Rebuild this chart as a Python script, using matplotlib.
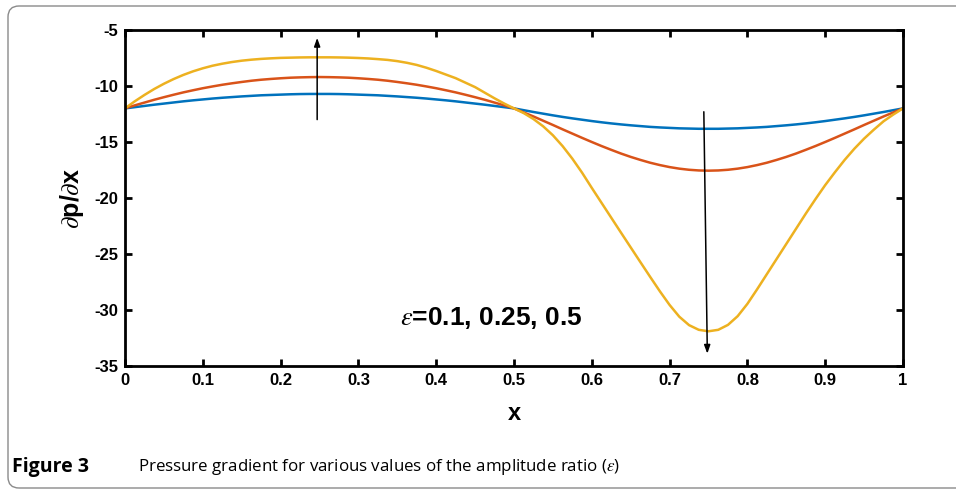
"""
Pressure gradient dp/dx along x for three amplitude ratios (epsilon).
Values read off the published figure.
"""

import matplotlib
matplotlib.use("Agg")
import matplotlib.pyplot as plt
from matplotlib.patches import FancyBboxPatch
from matplotlib.transforms import IdentityTransform

plt.rcParams['font.family'] = ['Liberation Sans', 'DejaVu Sans']
plt.rcParams['axes.unicode_minus'] = False
plt.rcParams['mathtext.fontset'] = 'stix'

# ---------------------------------------------------------------------------
# data (x step 0.0125)
# ---------------------------------------------------------------------------
x_vals = [0.0000, 0.0125, 0.0250, 0.0375, 0.0500, 0.0625, 0.0750, 0.0875, 0.1000,
          0.1125, 0.1250, 0.1375, 0.1500, 0.1625, 0.1750, 0.1875, 0.2000, 0.2125,
          0.2250, 0.2375, 0.2500, 0.2625, 0.2750, 0.2875, 0.3000, 0.3125, 0.3250,
          0.3375, 0.3500, 0.3625, 0.3750, 0.3875, 0.4000, 0.4125, 0.4250, 0.4375,
          0.4500, 0.4625, 0.4750, 0.4875, 0.5000, 0.5125, 0.5250, 0.5375, 0.5500,
          0.5625, 0.5750, 0.5875, 0.6000, 0.6125, 0.6250, 0.6375, 0.6500, 0.6625,
          0.6750, 0.6875, 0.7000, 0.7125, 0.7250, 0.7375, 0.7500, 0.7625, 0.7750,
          0.7875, 0.8000, 0.8125, 0.8250, 0.8375, 0.8500, 0.8625, 0.8750, 0.8875,
          0.9000, 0.9125, 0.9250, 0.9375, 0.9500, 0.9625, 0.9750, 0.9875, 1.0000]

dpdx_eps_010 = [-12.00, -11.89, -11.78, -11.67, -11.57, -11.47, -11.37, -11.28, -11.20,
                -11.12, -11.05, -10.99, -10.93, -10.88, -10.83, -10.80, -10.77, -10.74,
                -10.72, -10.71, -10.71, -10.71, -10.72, -10.74, -10.77, -10.80, -10.83,
                -10.88, -10.93, -10.99, -11.05, -11.12, -11.20, -11.28, -11.37, -11.47,
                -11.57, -11.67, -11.78, -11.89, -12.00, -12.16, -12.32, -12.47, -12.62,
                -12.76, -12.89, -13.01, -13.13, -13.24, -13.34, -13.43, -13.51, -13.58,
                -13.65, -13.70, -13.74, -13.78, -13.80, -13.82, -13.82, -13.82, -13.80,
                -13.78, -13.74, -13.70, -13.65, -13.58, -13.51, -13.43, -13.34, -13.24,
                -13.13, -13.01, -12.89, -12.76, -12.62, -12.47, -12.32, -12.16, -12.00]

dpdx_eps_025 = [-12.00, -11.73, -11.48, -11.23, -11.00, -10.78, -10.57, -10.38, -10.20,
                -10.04, -9.89, -9.76, -9.64, -9.53, -9.44, -9.37, -9.31, -9.26,
                -9.23, -9.21, -9.20, -9.21, -9.23, -9.26, -9.31, -9.37, -9.44,
                -9.53, -9.64, -9.76, -9.89, -10.04, -10.20, -10.38, -10.57, -10.78,
                -11.00, -11.23, -11.48, -11.73, -12.00, -12.36, -12.72, -13.10, -13.48,
                -13.87, -14.25, -14.63, -15.00, -15.36, -15.70, -16.03, -16.33, -16.60,
                -16.85, -17.06, -17.24, -17.38, -17.48, -17.54, -17.56, -17.54, -17.48,
                -17.38, -17.24, -17.06, -16.85, -16.60, -16.33, -16.03, -15.70, -15.36,
                -15.00, -14.63, -14.25, -13.87, -13.48, -13.10, -12.72, -12.36, -12.00]

dpdx_eps_050 = [-12.00, -11.37, -10.80, -10.27, -9.80, -9.38, -9.01, -8.69, -8.42,
                -8.19, -8.01, -7.86, -7.74, -7.65, -7.58, -7.53, -7.49, -7.47,
                -7.45, -7.44, -7.44, -7.44, -7.45, -7.47, -7.50, -7.54, -7.60,
                -7.67, -7.78, -7.93, -8.12, -8.37, -8.66, -8.98, -9.30, -9.70,
                -10.10, -10.60, -11.10, -11.57, -12.00, -12.42, -12.95, -13.60, -14.40,
                -15.37, -16.49, -17.74, -19.10, -20.43, -21.76, -23.09, -24.41, -25.73,
                -27.04, -28.33, -29.55, -30.60, -31.35, -31.77, -31.90, -31.77, -31.33,
                -30.55, -29.45, -28.15, -26.80, -25.45, -24.10, -22.75, -21.40, -20.10,
                -18.85, -17.70, -16.60, -15.60, -14.70, -13.90, -13.15, -12.55, -12.00]

x_ticks = [0, 0.1, 0.2, 0.3, 0.4, 0.5, 0.6, 0.7, 0.8, 0.9, 1]
x_ticklabels = ['0', '0.1', '0.2', '0.3', '0.4', '0.5', '0.6', '0.7', '0.8', '0.9', '1']
y_ticks = [-35, -30, -25, -20, -15, -10, -5]

# arrows: (tail x, tail y, head x, head y)
arrow_up = (0.247, -13.0, 0.247, -5.7)
arrow_down = (0.744, -12.3, 0.7485, -33.9)

COLORS = ['#0072BD', '#D95319', '#EDB120']

# ---------------------------------------------------------------------------
fig = plt.figure(figsize=(9.56, 4.92), dpi=100)

# rounded frame around the figure (pixel coords), right edge runs off the image
frame = FancyBboxPatch((8, 4), 975, 482,
                       boxstyle="round,pad=0,rounding_size=11",
                       transform=IdentityTransform(), facecolor='none',
                       edgecolor='#8a8a8a', linewidth=1.0, clip_on=False)
fig.patches.append(frame)

ax = fig.add_axes([125 / 956, 1 - 366 / 492, 778 / 956, 336 / 492])

for ys, c in zip([dpdx_eps_010, dpdx_eps_025, dpdx_eps_050], COLORS):
    ax.plot(x_vals, ys, color=c, linewidth=1.8, solid_capstyle='round',
            solid_joinstyle='round')

for tx, ty, hx, hy in [arrow_up, arrow_down]:
    ax.annotate('', xy=(hx, hy), xytext=(tx, ty),
                arrowprops=dict(arrowstyle='-|>,head_length=0.5,head_width=0.18',
                                color='black', lw=1.1, shrinkA=0, shrinkB=0))

ax.text(0.353, -30.7, r'$\epsilon$=0.1, 0.25, 0.5', fontsize=19,
        fontweight='bold', ha='left', va='center')

ax.set_xlim(0, 1)
ax.set_ylim(-35, -5)
ax.set_xticks(x_ticks)
ax.set_xticklabels(x_ticklabels)
ax.set_yticks(y_ticks)
ax.tick_params(direction='in', length=5, width=2, top=True, right=True,
               labelsize=12)
ax.tick_params(axis='x', pad=5)
ax.tick_params(axis='y', pad=5)
for lab in ax.get_xticklabels() + ax.get_yticklabels():
    lab.set_fontweight('bold')
for sp in ax.spines.values():
    sp.set_linewidth(2)

ax.set_xlabel('x', fontsize=17, fontweight='bold', labelpad=10)
ax.set_ylabel(r'$\partial$p/$\partial$x', fontsize=18, fontweight='bold', labelpad=6)

fig.text(12 / 956, 1 - 467 / 492, 'Figure 3', fontsize=14, fontweight='bold',
         family=['Open Sans', 'DejaVu Sans'], va='center', ha='left')
fig.text(138 / 956, 1 - 467 / 492,
         r'Pressure gradient for various values of the amplitude ratio ($\varepsilon$)',
         fontsize=12.2, family=['Open Sans', 'DejaVu Sans'], va='center', ha='left')

fig.savefig('out.png', dpi=100)
